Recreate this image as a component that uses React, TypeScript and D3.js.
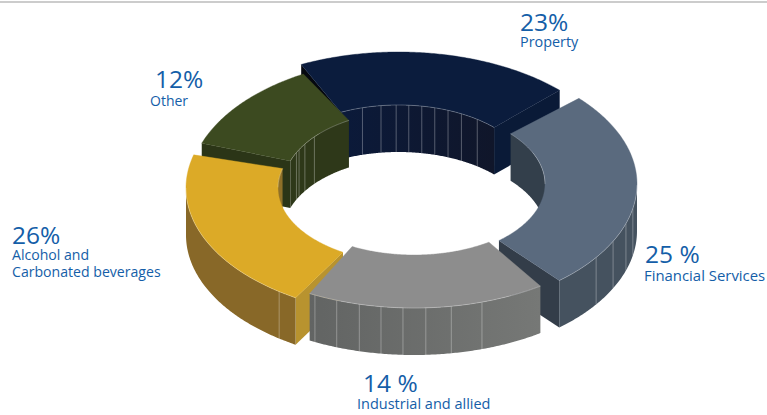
import React from "react";
import * as d3 from "d3";

// Portfolio sectors, clockwise from the back of the ring
const sectors = ["Property", "Financial Services", "Industrial and allied", "Alcohol and Carbonated beverages", "Other"];
const shares = [23, 25, 14, 26, 12];
const shareLabels = ["23%", "25 %", "14 %", "26%", "12%"];

const WIDTH = 767;
const HEIGHT = 415;
const DEPTH = 47;
const OUTER_RY = 128;
const INNER_RY = 75;
const BLUE = "#145ea8";

// Foreshortening of the tilted ring: share boundaries to on-screen degrees
const boundaryDegrees = [-27.25, 46.75, 142.5, 209.25, 287.25, 332.75];
const gapDegrees = [1.75, 1.25, 3.5, 1.75, 2.25, 1.75];

// Exploded centre and horizontal radii of each sector
const centres = [
  [398.5, 180],
  [411, 184],
  [414, 180],
  [412, 188],
  [411, 186],
];
const outerRadii = [226, 226, 226, 226, 222];
const innerRadii = [134, 134, 134, 134, 128];

const palettes = [
  { top: "#0b1c3d", inner: "url(#propertyWall)", outer: "#0c1a34", startCut: "#05080f", endCut: "#0a1a37" },
  { top: "#5a6a7e", inner: "#333f4b", outer: "#45525f", startCut: "#333d49", endCut: "#333d49" },
  { top: "#8d8d8d", inner: "#6e6f6e", outer: "url(#industrialWall)", startCut: "#5f6060", endCut: "#5f6060" },
  { top: "#dcaa27", inner: "#8f7028", outer: "#886828", startCut: "#b8932f", endCut: "#b8932f" },
  { top: "#3c4a20", inner: "#2e3819", outer: "#2e3819", startCut: "#2b3517", endCut: "#2b3517" },
];

// Facet seams moulded into the curved walls, in degrees
const seamDegrees = [
  [-15.6, -7.5, -1, 4.4, 10, 15.7, 21.7, 28, 36],
  [101, 108, 116.6, 125],
  [162.5, 170.5, 177, 182.8, 188.4, 194, 200, 206],
  [216],
  [296.5, 299, 304, 311],
];

// Text block per sector: share figure, then one or two caption lines
const labelBlocks = [
  { x: 520, figureX: 520, figureY: 31, lines: ["Property"], lineY: 47, size: 14.4 },
  { x: 644, figureX: 645, figureY: 263, lines: ["Financial Services"], lineY: 281, size: 14.9 },
  { x: 357, figureX: 363, figureY: 392, lines: ["Industrial and allied"], lineY: 409, size: 14.5 },
  { x: 12, figureX: 12, figureY: 244, lines: ["Alcohol and", "Carbonated beverages"], lineY: 260, size: 14.1 },
  { x: 150, figureX: 155, figureY: 88, lines: ["Other"], lineY: 106, size: 14 },
];

const rad = (deg: number) => (deg * Math.PI) / 180;

const pieAngles = d3.pie<number>().sort(null)(shares);
const cumulative = [0, ...pieAngles.map((p) => p.endAngle)];
const screenAngle = d3.scaleLinear().domain(cumulative).range(boundaryDegrees);

const polygon = d3.line<[number, number]>().curve(d3.curveLinear);

type Ring = { rx: number; ry: number };

function Sector({ index }: { index: number }) {
  const p = pieAngles[index];
  const a0 = screenAngle(p.startAngle) + gapDegrees[index];
  const a1 = screenAngle(p.endAngle) - gapDegrees[index + 1];
  const [cx, cy] = centres[index];
  const OUTER: Ring = { rx: outerRadii[index], ry: OUTER_RY };
  const INNER: Ring = { rx: innerRadii[index], ry: INNER_RY };
  const colours = palettes[index];

  const at = (ring: Ring, deg: number, drop = 0): [number, number] => [
    cx + ring.rx * Math.sin(rad(deg)),
    cy - ring.ry * Math.cos(rad(deg)) + drop,
  ];
  const sweep = d3.range(a0, a1, 0.5).concat(a1);
  const ringEdge = (ring: Ring, degs: number[], drop = 0) => degs.map((d) => at(ring, d, drop));

  const wall = (ring: Ring, degs: number[]) =>
    polygon([...ringEdge(ring, degs), ...ringEdge(ring, degs.slice().reverse(), DEPTH)]) + "Z";
  const cut = (deg: number) =>
    polygon([at(OUTER, deg), at(INNER, deg), at(INNER, deg, DEPTH), at(OUTER, deg, DEPTH)]) + "Z";

  const topFace =
    polygon([...ringEdge(OUTER, sweep), ...ringEdge(INNER, sweep.slice().reverse())]) + "Z";
  const outerDegs = sweep.filter((d) => Math.cos(rad(d)) < 0);
  const innerDegs = sweep.filter((d) => Math.cos(rad(d)) > 0);
  const seam = "rgba(255,255,255,0.38)";

  return (
    <g>
      {Math.sin(rad(a0)) < 0 && <path d={cut(a0)} fill={colours.startCut} />}
      {Math.sin(rad(a1)) > 0 && <path d={cut(a1)} fill={colours.endCut} />}
      {innerDegs.length > 1 && <path d={wall(INNER, innerDegs)} fill={colours.inner} />}
      {outerDegs.length > 1 && <path d={wall(OUTER, outerDegs)} fill={colours.outer} />}
      {seamDegrees[index].map((d) => {
        const ring = Math.cos(rad(d)) > 0 ? INNER : OUTER;
        const [x1, y1] = at(ring, d);
        const [x2, y2] = at(ring, d, DEPTH);
        return <line key={d} x1={x1} y1={y1} x2={x2} y2={y2} stroke={seam} strokeWidth={0.8} />;
      })}
      <path d={topFace} fill={colours.top} stroke={colours.top} strokeWidth={0.4} />
      {outerDegs.length > 1 && (
        <path d={polygon(ringEdge(OUTER, outerDegs)) ?? ""} fill="none" stroke={seam} strokeWidth={0.7} />
      )}
      {innerDegs.length > 1 && (
        <path d={polygon(ringEdge(INNER, innerDegs)) ?? ""} fill="none" stroke={seam} strokeWidth={0.7} />
      )}
    </g>
  );
}

function SectorLabel({ index }: { index: number }) {
  const block = labelBlocks[index];
  return (
    <g fill={BLUE} fontFamily="'Open Sans', sans-serif">
      <text x={block.figureX} y={block.figureY} fontSize={24.5}>
        {shareLabels[index]}
      </text>
      {block.lines.map((line, i) => (
        <text key={line} x={block.x} y={block.lineY + i * 17} fontSize={block.size}>
          {line}
        </text>
      ))}
    </g>
  );
}

export default function App() {
  // Back-to-front painting order so nearer sectors overlap farther ones
  const paintOrder = [0, 4, 1, 3, 2];
  return (
    <svg
      width={WIDTH}
      height={HEIGHT}
      viewBox={`0 0 ${WIDTH} ${HEIGHT}`}
      style={{ position: "absolute", left: 0, top: 0, background: "#fff" }}
      role="img"
      aria-label={sectors.join(", ")}
    >
      <defs>
        <linearGradient id="propertyWall" x1="0" x2="1" y1="0" y2="0">
          <stop offset="0" stopColor="#0b1a3a" />
          <stop offset="1" stopColor="#10162a" />
        </linearGradient>
        <linearGradient id="industrialWall" x1="0" x2="1" y1="0" y2="0">
          <stop offset="0" stopColor="#626463" />
          <stop offset="1" stopColor="#767876" />
        </linearGradient>
      </defs>
      <rect x={0} y={1} width={WIDTH} height={2} fill="#cccccc" />
      {paintOrder.map((i) => (
        <Sector key={sectors[i]} index={i} />
      ))}
      {sectors.map((name, i) => (
        <SectorLabel key={name} index={i} />
      ))}
    </svg>
  );
}
